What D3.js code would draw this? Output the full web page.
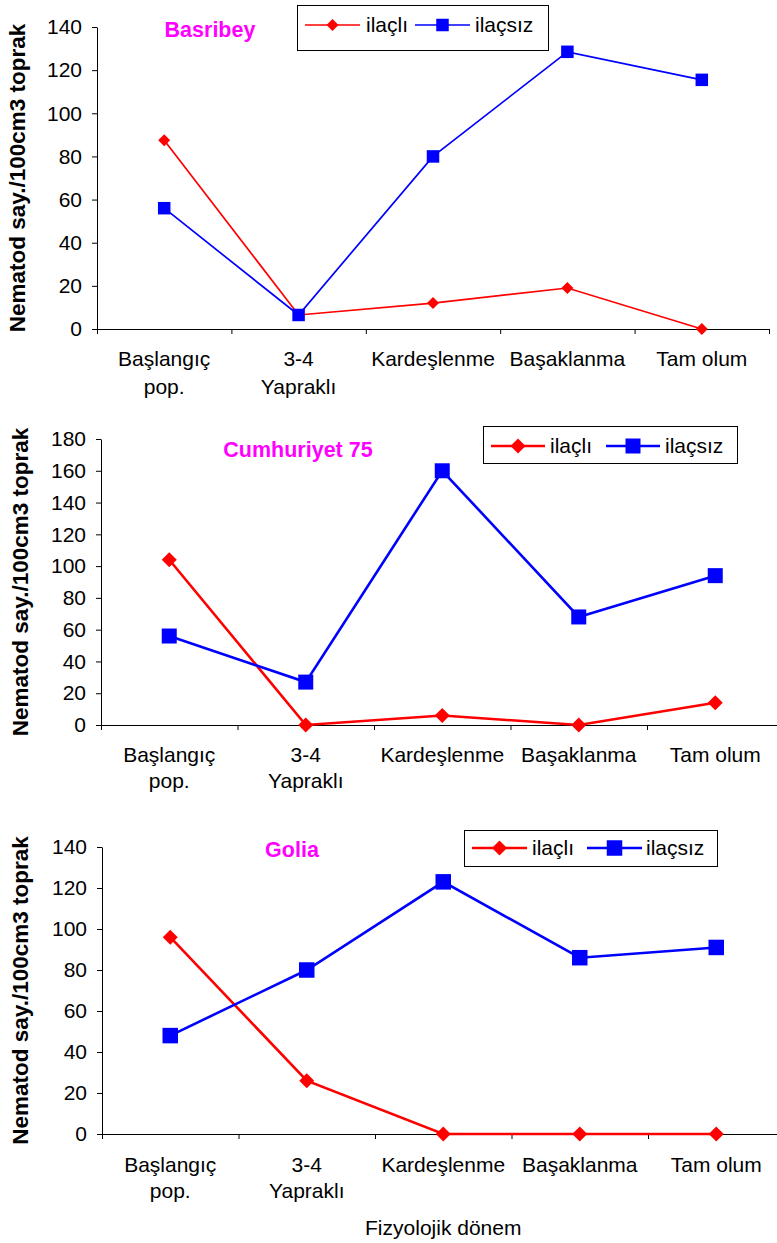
<!DOCTYPE html>
<html>
<head>
<meta charset="utf-8">
<script src="https://cdn.jsdelivr.net/npm/d3@7"></script>
<style>
  body { margin: 0; background: #fff; }
  svg { display: block; font-family: "Liberation Sans", Arial, sans-serif; }
</style>
</head>
<body>
<svg id="chart" width="777" height="1243"></svg>
<script>
// data
const categories = [["Başlangıç", "pop."], ["3-4", "Yapraklı"], ["Kardeşlenme"], ["Başaklanma"], ["Tam olum"]];
const seriesNames = ["ilaçlı", "ilaçsız"];
const panelTitles = ["Basribey", "Cumhuriyet 75", "Golia"];
const yMaxes = [140, 180, 140];

const basribeyIlacli = [87.5, 6.5, 12, 19, 0];
const basribeyIlacsiz = [56, 6.5, 80, 128.5, 115.5];
const cumhuriyetIlacli = [104, 0, 6, 0, 14];
const cumhuriyetIlacsiz = [56, 27, 160, 68, 94];
const goliaIlacli = [96, 26, 0, 0, 0];
const goliaIlacsiz = [48, 80, 123, 86, 91];

const yLabel = "Nematod say./100cm3 toprak";
const xLabel = "Fizyolojik dönem";

const colors = ["#ff0000", "#0000ff"];

// layout of each panel (pixels)
const panels = [
  { x0: 97, x1: 769, yTop: 27, yBot: 329, lw: 1.7, dia: 6, sq: 12.5,
    titleX: 210, titleY: 37, yLabX: 25,
    leg: { x: 297, y: 5, w: 251, h: 45, base: 32, l1: 305, t1: 366, l2: 415, t2: 475, len: 55 },
    line2: [37, 65],
    values: [basribeyIlacli, basribeyIlacsiz] },
  { x0: 101, x1: 783.5, yTop: 439, yBot: 725, lw: 2.6, dia: 7.5, sq: 15,
    titleX: 298, titleY: 457, yLabX: 28,
    leg: { x: 483, y: 426, w: 254, h: 37, base: 453, l1: 491, t1: 550, l2: 606, t2: 665, len: 54 },
    line2: [37, 63],
    values: [cumhuriyetIlacli, cumhuriyetIlacsiz] },
  { x0: 102, x1: 784.5, yTop: 847, yBot: 1134, lw: 2.6, dia: 7.5, sq: 15.5,
    titleX: 292, titleY: 857, yLabX: 28,
    leg: { x: 464, y: 830, w: 253, h: 36, base: 855, l1: 472, t1: 532, l2: 587, t2: 646, len: 55 },
    line2: [38, 64],
    values: [goliaIlacli, goliaIlacsiz] }
];

const svg = d3.select("#chart");

function marker(g, kind, cx, cy, p, color) {
  if (kind === 0) {
    const r = p.dia;
    g.append("path")
      .attr("d", `M${cx},${cy - r}L${cx + r},${cy}L${cx},${cy + r}L${cx - r},${cy}Z`)
      .attr("fill", color);
  } else {
    g.append("rect")
      .attr("x", cx - p.sq / 2).attr("y", cy - p.sq / 2)
      .attr("width", p.sq).attr("height", p.sq)
      .attr("fill", color);
  }
}

panels.forEach((p, i) => {
  const g = svg.append("g");
  const x = d3.scaleBand().domain(d3.range(categories.length)).range([p.x0, p.x1]);
  const xEdge = d3.scaleLinear().domain([0, categories.length]).range([p.x0, p.x1]);
  const y = d3.scaleLinear().domain([0, yMaxes[i]]).range([p.yBot, p.yTop]);

  // y axis
  const ya = g.append("g").attr("transform", `translate(${p.x0},0)`)
    .call(d3.axisLeft(y).tickValues(d3.range(0, yMaxes[i] + 1, 20)).tickSize(5).tickSizeOuter(0).tickPadding(10));
  ya.attr("font-family", null).attr("font-size", 21);
  ya.selectAll("text").attr("fill", "#000");

  // x axis, ticks on category boundaries
  const xa = g.append("g").attr("transform", `translate(0,${p.yBot})`)
    .call(d3.axisBottom(xEdge).tickValues(d3.range(categories.length + 1)).tickFormat("").tickSize(5).tickSizeOuter(0));
  xa.selectAll("path, line").attr("stroke", "#000");
  ya.selectAll("path, line").attr("stroke", "#000");

  // category labels
  categories.forEach((lines, k) => {
    lines.forEach((t, j) => {
      g.append("text")
        .attr("x", x(k) + x.bandwidth() / 2)
        .attr("y", p.yBot + p.line2[j])
        .attr("text-anchor", "middle")
        .attr("font-size", 21)
        .text(t);
    });
  });

  // y label
  g.append("text")
    .attr("transform", `translate(${p.yLabX},${(p.yTop + p.yBot) / 2}) rotate(-90)`)
    .attr("text-anchor", "middle")
    .attr("font-weight", "bold")
    .attr("font-size", 22.5)
    .text(yLabel);

  // series
  p.values.forEach((vals, s) => {
    const line = d3.line().x((d, k) => x(k) + x.bandwidth() / 2).y(d => y(d));
    g.append("path").datum(vals)
      .attr("d", line)
      .attr("fill", "none")
      .attr("stroke", colors[s])
      .attr("stroke-width", p.lw);
  });
  p.values.forEach((vals, s) => {
    vals.forEach((v, k) => marker(g, s, x(k) + x.bandwidth() / 2, y(v), p, colors[s]));
  });

  // title
  g.append("text")
    .attr("x", p.titleX).attr("y", p.titleY)
    .attr("text-anchor", "middle")
    .attr("font-weight", "bold")
    .attr("font-size", 21.5)
    .attr("fill", "#ff00ff")
    .text(panelTitles[i]);

  // legend
  const L = p.leg;
  const lg = g.append("g");
  lg.append("rect").attr("x", L.x + 0.5).attr("y", L.y + 0.5).attr("width", L.w).attr("height", L.h)
    .attr("fill", "#fff").attr("stroke", "#000").attr("stroke-width", 1);
  [L.l1, L.l2].forEach((lx, s) => {
    const cy = L.base - 7;
    lg.append("line").attr("x1", lx).attr("x2", lx + L.len).attr("y1", cy).attr("y2", cy)
      .attr("stroke", colors[s]).attr("stroke-width", p.lw);
    marker(lg, s, lx + L.len / 2, cy, p, colors[s]);
  });
  [L.t1, L.t2].forEach((tx, s) => {
    lg.append("text").attr("x", tx).attr("y", L.base).attr("font-size", 21).text(seriesNames[s]);
  });
});

svg.append("text")
  .attr("x", (panels[2].x0 + panels[2].x1) / 2)
  .attr("y", 1235)
  .attr("text-anchor", "middle")
  .attr("font-size", 21)
  .text(xLabel);
</script>
</body>
</html>
